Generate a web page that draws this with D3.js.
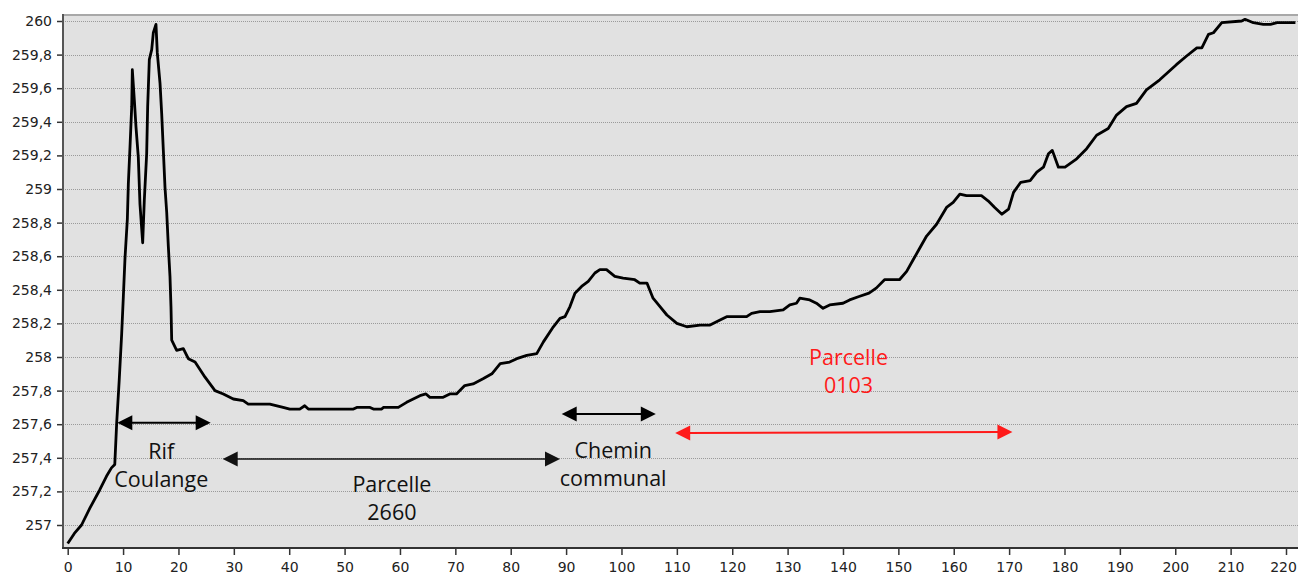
<!DOCTYPE html>
<html>
<head>
<meta charset="utf-8">
<script src="https://cdn.jsdelivr.net/npm/d3@7"></script>
<style>
  html, body { margin: 0; padding: 0; background: #fff; }
  svg { display: block; }
</style>
</head>
<body>
<svg id="chart" width="1298" height="574"></svg>
<script>
// ---- Data (distance in m, elevation in m) ----
const distances = [
  0, 1.2, 2.5, 4.0, 5.8, 7.0, 7.9, 8.5, 8.85, 9.3, 9.75, 10.05, 10.35, 10.77, 10.95, 11.25, 11.56, 11.67,
  12.03, 12.33, 12.75, 13.05, 13.54, 13.83, 14.26, 14.44, 14.74, 15.17, 15.46, 15.94, 16.18, 16.67, 16.97,
  17.27, 17.57, 17.88, 18.17, 18.47, 18.65, 18.78, 19.68, 20.88, 21.78, 23.0, 24.8, 26.6, 28.1, 29.9, 31.7,
  32.6, 36.5, 38.9, 40.1, 41.9, 42.8, 43.45, 51.6, 52.2, 54.6, 55.2, 56.7, 57.0, 59.7, 61.2, 62.4, 63.6,
  64.7, 65.4, 67.8, 69.0, 70.2, 71.7, 73.2, 75.0, 76.6, 78.1, 79.8, 81.1, 82.9, 84.7, 85.9, 87.7, 88.9,
  89.8, 90.7, 91.6, 92.8, 94.0, 95.2, 96.1, 97.3, 98.8, 100.3, 102.4, 103.3, 104.6, 105.7, 106.7, 108.2,
  110.0, 111.8, 114.2, 116.0, 117.8, 119.0, 120.2, 122.6, 123.5, 125.0, 126.8, 129.2, 130.4, 131.6, 132.2,
  134.0, 135.2, 136.4, 137.6, 140.0, 141.2, 142.9, 144.7, 146.0, 147.5, 150.2, 151.5, 152.7, 153.9, 155.1,
  156.9, 158.7, 159.9, 161.1, 162.3, 165.0, 166.2, 167.4, 168.7, 169.9, 170.8, 172.1, 173.8, 175.0, 176.2,
  177.1, 177.8, 178.9, 180.1, 182.2, 184.0, 185.8, 187.9, 189.4, 191.2, 193.0, 194.8, 197.2, 200.2, 202.0,
  203.9, 204.8, 206.0, 206.9, 208.4, 212.0, 212.6, 214.1, 215.9, 217.2, 218.4, 221.7
];
const elevations = [
  256.89, 256.95, 257.00, 257.10, 257.21, 257.29, 257.34, 257.36, 257.61, 257.86, 258.14, 258.36, 258.59, 258.82, 259.03, 259.25, 259.49, 259.71,
  259.53, 259.37, 259.19, 258.91, 258.68, 258.93, 259.21, 259.49, 259.77, 259.83, 259.93, 259.98, 259.81, 259.63, 259.45,
  259.23, 259.01, 258.86, 258.66, 258.48, 258.30, 258.10, 258.04, 258.05, 257.99, 257.97, 257.88, 257.80, 257.78, 257.75, 257.74,
  257.72, 257.72, 257.70, 257.69, 257.69, 257.71, 257.69, 257.69, 257.70, 257.70, 257.69, 257.69, 257.70, 257.70, 257.73, 257.75, 257.77,
  257.78, 257.76, 257.76, 257.78, 257.78, 257.83, 257.84, 257.87, 257.90, 257.96, 257.97, 257.99, 258.01, 258.02, 258.09, 258.18, 258.23,
  258.24, 258.30, 258.38, 258.42, 258.45, 258.50, 258.52, 258.52, 258.48, 258.47, 258.46, 258.44, 258.44, 258.35, 258.31, 258.25,
  258.20, 258.18, 258.19, 258.19, 258.22, 258.24, 258.24, 258.24, 258.26, 258.27, 258.27, 258.28, 258.31, 258.32, 258.35,
  258.34, 258.32, 258.29, 258.31, 258.32, 258.34, 258.36, 258.38, 258.41, 258.46, 258.46, 258.51, 258.58, 258.65, 258.72,
  258.79, 258.89, 258.92, 258.97, 258.96, 258.96, 258.93, 258.89, 258.85, 258.88, 258.98, 259.04, 259.05, 259.10, 259.13,
  259.21, 259.23, 259.13, 259.13, 259.18, 259.24, 259.32, 259.36, 259.44, 259.49, 259.51, 259.59, 259.65, 259.74, 259.79,
  259.84, 259.84, 259.92, 259.93, 259.99, 260.00, 260.01, 259.99, 259.98, 259.98, 259.99, 259.99
];
const xTicks = d3.range(0, 221, 10);
const yTicks = [257, 257.2, 257.4, 257.6, 257.8, 258, 258.2, 258.4, 258.6, 258.8, 259, 259.2, 259.4, 259.6, 259.8, 260];

// Annotations (data coordinates)
const arrowStarts = [8.96, 27.99, 89.2, 109.7];
const arrowEnds   = [25.82, 88.9, 106.2, 170.6];
const arrowLevelsStart = [257.609, 257.393, 257.66, 257.548];
const arrowLevelsEnd   = [257.609, 257.393, 257.66, 257.554];
const arrowColors = ["#000", "#111", "#000", "#ff1a1a"];
const arrowWidths = [2, 1.6, 2, 2];

const labelLines = [["Rif", "Coulange"], ["Parcelle", "2660"], ["Chemin", "communal"], ["Parcelle", "0103"]];
const labelX = [16.9, 58.55, 98.5, 141.0];
const labelY = [257.393, 257.198, 257.399, 257.952];
const labelColors = ["#111", "#111", "#111", "#ff1a1a"];

// ---- Layout ----
const svg = d3.select("#chart");
const frame = { left: 63, right: 1298, top: 15, bottom: 548 };
const x = d3.scaleLinear().domain([0, 220]).range([67.7, 1286]);
const y = d3.scaleLinear().domain([257, 260]).range([525, 21]);
const lineH = 28; // px between annotation lines

// plot background
svg.append("rect")
  .attr("x", frame.left).attr("y", frame.top)
  .attr("width", frame.right - frame.left).attr("height", frame.bottom - frame.top)
  .attr("fill", "#e1e1e1");

// grid lines
svg.append("g").selectAll("line").data(yTicks).join("line")
  .attr("x1", frame.left).attr("x2", frame.right)
  .attr("y1", d => Math.round(y(d)) + 0.5).attr("y2", d => Math.round(y(d)) + 0.5)
  .attr("stroke", "#9a9a9a").attr("stroke-width", 1).attr("stroke-dasharray", "1,1");

// top border
svg.append("line")
  .attr("x1", frame.left).attr("x2", frame.right)
  .attr("y1", frame.top).attr("y2", frame.top)
  .attr("stroke", "#a8a8a8").attr("stroke-width", 2);

const fmt = v => String(+v.toFixed(1)).replace(".", ",");

// y axis
const yAxis = d3.axisLeft(y).tickValues(yTicks).tickFormat(fmt).tickSize(6).tickPadding(5);
const gy = svg.append("g").attr("transform", `translate(${frame.left},0)`).call(yAxis);
gy.select(".domain").remove();
gy.selectAll(".tick line").attr("stroke", "#333").attr("stroke-width", 1.5);
gy.selectAll(".tick text")
  .attr("font-family", "DejaVu Sans, Verdana, sans-serif")
  .attr("font-size", 14).attr("fill", "#222");
svg.append("line")
  .attr("x1", frame.left).attr("x2", frame.left)
  .attr("y1", frame.top - 1).attr("y2", frame.bottom)
  .attr("stroke", "#555").attr("stroke-width", 2);

// x axis
const xAxis = d3.axisBottom(x).tickValues(xTicks).tickFormat(d3.format("d")).tickSize(7).tickPadding(7);
const gx = svg.append("g").attr("transform", `translate(0,${frame.bottom})`).call(xAxis);
gx.select(".domain").remove();
gx.selectAll(".tick line").attr("stroke", "#333").attr("stroke-width", 1.5);
gx.selectAll(".tick text")
  .attr("font-family", "DejaVu Sans, Verdana, sans-serif")
  .attr("font-size", 14).attr("fill", "#222");
// keep the last label inside the canvas
gx.selectAll(".tick text").filter(d => d === 220).attr("dx", -3);
svg.append("line")
  .attr("x1", frame.left - 1).attr("x2", frame.right)
  .attr("y1", frame.bottom).attr("y2", frame.bottom)
  .attr("stroke", "#333").attr("stroke-width", 2);

// profile line
const pts = distances.map((d, i) => [d, elevations[i]]);
const line = d3.line().x(d => x(d[0])).y(d => y(d[1]));
svg.append("path").datum(pts)
  .attr("d", line)
  .attr("fill", "none").attr("stroke", "#000")
  .attr("stroke-width", 2.8).attr("stroke-linejoin", "round");

// arrows (double-headed)
const headL = 15, headW = 7.5;
arrowStarts.forEach((s, i) => {
  const x1 = x(s), x2 = x(arrowEnds[i]);
  const y1 = y(arrowLevelsStart[i]), y2 = y(arrowLevelsEnd[i]);
  const ang = Math.atan2(y2 - y1, x2 - x1);
  const g = svg.append("g");
  const ux = Math.cos(ang), uy = Math.sin(ang);
  g.append("line")
    .attr("x1", x1 + ux * headL * 0.8).attr("y1", y1 + uy * headL * 0.8)
    .attr("x2", x2 - ux * headL * 0.8).attr("y2", y2 - uy * headL * 0.8)
    .attr("stroke", arrowColors[i]).attr("stroke-width", arrowWidths[i]);
  const head = (tx, ty, dir) => {
    const bx = tx - dir * ux * headL, by = ty - dir * uy * headL;
    const px = -uy * headW, py = ux * headW;
    return `M${tx},${ty}L${bx + px},${by + py}L${bx - px},${by - py}Z`;
  };
  g.append("path").attr("d", head(x2, y2, 1)).attr("fill", arrowColors[i]);
  g.append("path").attr("d", head(x1, y1, -1)).attr("fill", arrowColors[i]);
});

// labels
labelLines.forEach((lines, i) => {
  const t = svg.append("text")
    .attr("font-family", "Open Sans, Noto Sans, sans-serif")
    .attr("font-size", 21.5)
    .attr("fill", labelColors[i])
    .attr("text-anchor", "middle");
  lines.forEach((s, j) => {
    t.append("tspan").attr("x", x(labelX[i])).attr("y", y(labelY[i]) + j * lineH).text(s);
  });
});
</script>
</body>
</html>
